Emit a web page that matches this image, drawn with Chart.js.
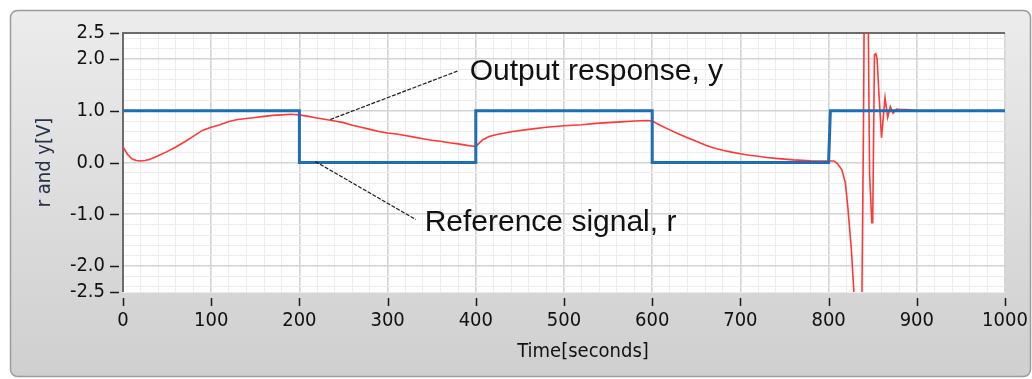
<!DOCTYPE html>
<html>
<head>
<meta charset="utf-8">
<script src="https://cdn.jsdelivr.net/npm/chart.js@4.4.1/dist/chart.umd.min.js"></script>
<style>
    html, body { margin: 0; padding: 0; background: #fff; }
    canvas { display: block; }
</style>
</head>
<body>
<canvas id="myChart" width="1032" height="379"></canvas>
<script>
// reference signal r (square wave)
const refTime = [0, 200, 200, 400, 400, 600, 600, 800, 802, 1000];
const refValue = [1, 1, 0, 0, 1, 1, 0, 0, 1, 1];

// output response y
const outTime = [
    0, 5, 10, 15, 20, 25, 30, 40, 50, 60, 70, 80, 90, 100, 110, 120, 130, 140, 150, 160, 170, 180, 190, 200,
    210, 220, 230, 240, 250, 260, 270, 280, 290, 300, 310, 320, 330, 340, 350, 360, 370, 380, 390, 400,
    403, 408, 415, 424, 442, 460, 480, 500, 520, 540, 560, 580, 595, 600,
    610, 620, 630, 640, 650, 660, 670, 680, 690, 700, 710, 720, 730, 740, 750, 760, 780, 800,
    806, 810, 815, 819, 822, 826, 829, 833, 837, 839.5, 841, 844, 846.5, 849, 850, 852, 853.5, 855, 857, 860,
    864, 867, 870, 873, 877, 881, 888, 897, 900, 1000
];
const outValue = [
    0.30, 0.16, 0.07, 0.04, 0.03, 0.04, 0.06, 0.13, 0.21, 0.30, 0.40, 0.51, 0.62, 0.68, 0.73, 0.79, 0.83, 0.85, 0.87, 0.89, 0.91, 0.92, 0.93, 0.92,
    0.89, 0.86, 0.83, 0.80, 0.77, 0.72, 0.68, 0.64, 0.60, 0.57, 0.55, 0.52, 0.49, 0.46, 0.43, 0.41, 0.38, 0.36, 0.33, 0.31,
    0.36, 0.44, 0.50, 0.54, 0.60, 0.64, 0.68, 0.71, 0.73, 0.76, 0.78, 0.80, 0.81, 0.80,
    0.71, 0.63, 0.55, 0.48, 0.41, 0.34, 0.28, 0.235, 0.20, 0.17, 0.14, 0.12, 0.095, 0.08, 0.065, 0.05, 0.035, 0.03,
    0.03, -0.02, -0.14, -0.39, -0.90, -1.73, -2.6, -4.0, -4.0, 0.6, 4.5, 4.5, -0.23, -1.16, -1.16, 2.08, 2.1, 2.0, 1.35, 0.48,
    1.25, 0.87, 1.08, 0.95, 1.03, 1.02, 1.02, 1.01, 1.0, 1.0
];

const xTicks = [0, 100, 200, 300, 400, 500, 600, 700, 800, 900, 1000];
const yTicks = [-2.5, -2.0, -1.0, 0.0, 1.0, 2.0, 2.5];

// callouts, placed in data units
const notes = [
    { text: 'Output response, y', x: 393, y: 1.6, from: [235, 0.83], to: [380, 1.77] },
    { text: 'Reference signal, r', x: 342, y: -1.33, from: [218, 0.02], to: [332, -1.10] },
];

const xGrid = [];
for (let v = 0; v <= 1000; v += 20) xGrid.push(v);
const yGrid = [-2.5];
for (let k = -12; k <= 12; k++) yGrid.push(k / 5);
yGrid.push(2.5);

const near = (a, b) => Math.abs(a - b) < 1e-9;
const isYLabel = v => yTicks.some(t => near(t, v));
const isWhole = v => near(v, Math.round(v));
const FONT = "'DejaVu Sans Condensed', 'DejaVu Sans', sans-serif";

const panel = {
    id: 'panel',
    beforeDraw(chart) {
        const { ctx, chartArea: a, width, height } = chart;
        ctx.save();
        ctx.fillStyle = '#fff';
        ctx.fillRect(0, 0, width, height);
        const g = ctx.createLinearGradient(0, 10, 0, height - 2);
        g.addColorStop(0, '#ececec');
        g.addColorStop(1, '#cfcfcf');
        ctx.beginPath();
        ctx.roundRect(10.5, 10.5, width - 12, height - 13, 7);
        ctx.fillStyle = g;
        ctx.fill();
        ctx.lineWidth = 1.5;
        ctx.strokeStyle = '#9c9c9c';
        ctx.stroke();
        ctx.fillStyle = '#fff';
        ctx.fillRect(a.left, a.top, a.width, a.height);
        ctx.restore();
    },
    beforeDatasetsDraw(chart) {
        const { ctx, chartArea: a } = chart;
        ctx.save();
        ctx.strokeStyle = '#6c6c6c';
        ctx.lineWidth = 2;
        ctx.beginPath();
        ctx.moveTo(a.left, a.bottom);
        ctx.lineTo(a.left, a.top);
        ctx.lineTo(a.right, a.top);
        ctx.stroke();
        ctx.restore();
    },
    afterDraw(chart) {
        const { ctx, chartArea: a, scales } = chart;
        const xs = scales.x, ys = scales.y;
        ctx.save();
        // tick marks
        ctx.strokeStyle = '#1a1a1a';
        ctx.lineWidth = 1.5;
        ctx.beginPath();
        yTicks.forEach(v => {
            const py = Math.round(ys.getPixelForValue(v)) + 0.5;
            ctx.moveTo(a.left - 13, py);
            ctx.lineTo(a.left - 4, py);
        });
        xTicks.forEach(v => {
            const px = Math.round(xs.getPixelForValue(v)) + 0.5;
            ctx.moveTo(px, a.bottom + 6);
            ctx.lineTo(px, a.bottom + 14);
        });
        ctx.stroke();
        // x axis title, sits a bit right of centre in the original
        ctx.fillStyle = '#111';
        ctx.font = '20px ' + FONT;
        ctx.textAlign = 'center';
        ctx.textBaseline = 'middle';
        ctx.fillText('Time[seconds]', (a.left + a.right) / 2 + 19, a.bottom + 60);
        // callouts
        ctx.strokeStyle = '#1a1a1a';
        ctx.lineWidth = 1.2;
        ctx.setLineDash([4, 1.5]);
        notes.forEach(n => {
            ctx.beginPath();
            ctx.moveTo(xs.getPixelForValue(n.from[0]), ys.getPixelForValue(n.from[1]));
            ctx.lineTo(xs.getPixelForValue(n.to[0]), ys.getPixelForValue(n.to[1]));
            ctx.stroke();
        });
        ctx.setLineDash([]);
        ctx.fillStyle = '#111';
        ctx.font = "30px 'Liberation Sans', Arial, sans-serif";
        ctx.textBaseline = 'alphabetic';
        ctx.textAlign = 'left';
        notes.forEach(n => {
            ctx.fillText(n.text, xs.getPixelForValue(n.x), ys.getPixelForValue(n.y));
        });
        ctx.restore();
    }
};

const data = {
    datasets: [{
        label: 'Reference signal, r',
        data: refTime.map((t, i) => ({ x: t, y: refValue[i] })),
        borderColor: '#1f6db3',
        borderWidth: 3,
        pointRadius: 0,
        tension: 0,
    }, {
        label: 'Output response, y',
        data: outTime.map((t, i) => ({ x: t, y: outValue[i] })),
        borderColor: 'rgba(255, 45, 45, 0.95)',
        borderWidth: 1.6,
        pointRadius: 0,
        tension: 0,
    }]
};

const config = {
    type: 'line',
    data: data,
    options: {
        responsive: false,
        animation: false,
        layout: { padding: { left: 0, top: 33, right: 27, bottom: 0 } },
        plugins: {
            legend: { display: false },
            tooltip: { enabled: false },
        },
        scales: {
            x: {
                type: 'linear',
                min: 0,
                max: 1000,
                afterBuildTicks: s => { s.ticks = xGrid.map(v => ({ value: v })); },
                afterFit: s => { s.height = 87; s.paddingLeft = 0; s.paddingRight = 0; },
                border: { display: false },
                grid: {
                    drawTicks: false,
                    color: c => c.tick && c.tick.value % 100 === 0 ? '#d4d4d4' : '#ececec',
                    lineWidth: c => c.tick && c.tick.value % 100 === 0 ? 1.6 : 1,
                },
                ticks: {
                    autoSkip: false,
                    maxRotation: 0,
                    padding: 17,
                    color: '#111',
                    font: { family: FONT, size: 20 },
                    callback: v => xTicks.includes(v) ? String(v) : '',
                },
                title: { display: false },
            },
            y: {
                type: 'linear',
                min: -2.5,
                max: 2.5,
                afterBuildTicks: s => { s.ticks = yGrid.map(v => ({ value: v })); },
                afterFit: s => { s.width = 123; s.paddingTop = 0; s.paddingBottom = 0; },
                border: { display: false },
                grid: {
                    drawTicks: false,
                    color: c => c.tick && isWhole(c.tick.value) ? '#d4d4d4' : '#ececec',
                    lineWidth: c => c.tick && isWhole(c.tick.value) ? 1.6 : 1,
                },
                ticks: {
                    autoSkip: false,
                    padding: 18,
                    color: '#111',
                    font: { family: FONT, size: 20 },
                    callback: v => isYLabel(v) ? v.toFixed(1) : '',
                },
                title: {
                    display: true,
                    text: 'r and y[V]',
                    color: '#27324a',
                    font: { family: FONT, size: 20 },
                    padding: { top: 33, bottom: 0 },
                },
            },
        },
    },
    plugins: [panel],
};

const myChart = new Chart(
    document.getElementById('myChart'),
    config
);
</script>
</body>
</html>
